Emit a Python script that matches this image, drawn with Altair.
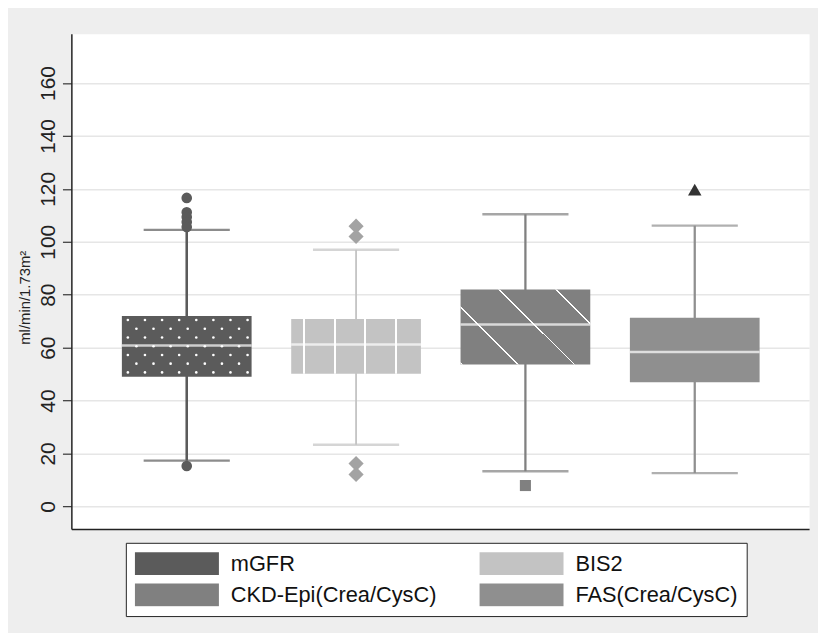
import altair as alt
import pandas as pd

# ---- data ----
groups = ["mGFR", "BIS2", "CKD-Epi(Crea/CysC)", "FAS(Crea/CysC)"]
q1 = [49.0, 50.1, 53.6, 46.9]
median = [60.8, 61.2, 68.8, 58.4]
q3 = [72.0, 70.8, 82.0, 71.3]
whisker_low = [17.3, 23.3, 13.3, 12.6]
whisker_high = [104.5, 97.0, 110.4, 106.1]

outlier_group = (["mGFR"] * 6 + ["BIS2"] * 4
                 + ["CKD-Epi(Crea/CysC)"] + ["FAS(Crea/CysC)"])
outlier_value = [116.6, 111.2, 109.4, 107.5, 105.6, 15.3,
                 105.9, 102.0, 16.2, 12.1,
                 7.9,
                 119.7]

y_ticks = [0, 20, 40, 60, 80, 100, 120, 140, 160]

# ---- styles ----
box_fill = ["#5b5b5b", "#c3c3c3", "#808080", "#8f8f8f"]
outlier_fill = ["#5b5b5b", "#a3a3a3", "#808080", "#333333"]
outlier_shape = ["circle", "diamond", "square", "triangle-up"]
outlier_size = [115, 235, 125, 185]
line_width = [2.6, 1.8, 2.3, 2.3]
FONT = "Liberation Sans"
CLEAR = "rgba(255,255,255,0)"


def stripes(centers, half):
    stops = [{"offset": 0, "color": CLEAR}]
    for c in centers:
        a, b = max(c - half, 0.0), min(c + half, 1.0)
        stops += [{"offset": a, "color": CLEAR}, {"offset": a, "color": "white"},
                  {"offset": b, "color": "white"}, {"offset": b, "color": CLEAR}]
    stops.append({"offset": 1, "color": CLEAR})
    return stops


vertical_hatch = {"gradient": "linear", "x1": 0, "y1": 0, "x2": 1, "y2": 0,
                  "stops": stripes([0.10, 0.336, 0.567, 0.805], 0.008)}
diagonal_hatch = {"gradient": "linear", "x1": 0, "y1": 1, "x2": 1.183, "y2": 0.314,
                  "stops": stripes([0.006, 0.28, 0.556, 0.831], 0.0045)}

position = {g: i + 1 for i, g in enumerate(groups)}

box_df = pd.DataFrame({
    "group": groups,
    "pos": [position[g] for g in groups],
    "q1": q1, "median": median, "q3": q3,
    "lo": whisker_low, "hi": whisker_high,
})
out_df = pd.DataFrame({
    "series": outlier_group,
    "pos": [position[g] for g in outlier_group],
    "value": outlier_value,
})

x_enc = alt.X("pos:Q",
              scale=alt.Scale(domain=[0.348, 4.646], nice=False, zero=False),
              axis=alt.Axis(labels=False, ticks=False, grid=False, title=None,
                            domainColor="#222222", domainWidth=1.5))

y_scale = alt.Scale(domain=[-8.5, 178.6], nice=False, zero=False)
y_axis = alt.Axis(values=y_ticks, title="ml/min/1.73m²",
                  labelAngle=270, labelAlign="center", labelBaseline="bottom",
                  labelFontSize=21, labelFont=FONT, labelColor="#222222",
                  labelPadding=4, labelOverlap=False,
                  tickSize=9, tickColor="#333333", tickWidth=1.2,
                  domainColor="#222222", domainWidth=1.5,
                  gridColor="#e6e6e6", gridWidth=1.5,
                  titleAngle=270, titleX=-42, titleY=266, titleAlign="center",
                  titleBaseline="alphabetic", titleFontSize=15,
                  titleFont=FONT, titleFontWeight="normal", titleColor="#222222")

legend_path = "M-1,-0.2706L1,-0.2706L1,0.2706L-1,0.2706Z"
legend = alt.Legend(title=None, orient="none", legendX=55, legendY=514,
                    direction="horizontal",
                    columns=2, symbolType=legend_path,
                    symbolSize=7225, symbolStrokeWidth=0, symbolOpacity=1,
                    labelFontSize=22, labelFont=FONT,
                    labelColor="#111111", labelLimit=400,
                    labelOffset=12, columnPadding=43,
                    rowPadding=7.5, padding=9, clipHeight=24,
                    fillColor="white", strokeColor="#222222")
color_scale = alt.Scale(domain=groups, range=box_fill)
color_enc = alt.Color("group:N", scale=color_scale, legend=legend)

base = alt.Chart(box_df)

layers = []
for g, w in zip(groups, line_width):
    layers.append(base.transform_filter(alt.datum.group == g)
                  .mark_rule(strokeWidth=w).encode(
                      x=x_enc,
                      y=alt.Y("lo:Q", scale=y_scale, axis=y_axis),
                      y2="hi:Q",
                      color=color_enc))

layers.append(base.mark_tick(orient="horizontal", size=87, thickness=2.4).encode(
    x="pos:Q", y="lo:Q", color=color_enc))
layers.append(base.mark_tick(orient="horizontal", size=87, thickness=2.4).encode(
    x="pos:Q", y="hi:Q", color=color_enc))

layers.append(base.mark_bar(size=131, opacity=1).encode(
    x="pos:Q", y="q1:Q", y2="q3:Q", color=color_enc))

layers.append(base.transform_filter(alt.datum.group == "BIS2").mark_bar(
    size=131, fill=vertical_hatch).encode(x="pos:Q", y="q1:Q", y2="q3:Q"))
layers.append(base.transform_filter(alt.datum.group == "CKD-Epi(Crea/CysC)").mark_bar(
    size=131, fill=diagonal_hatch).encode(x="pos:Q", y="q1:Q", y2="q3:Q"))

layers.append(base.transform_filter(alt.datum.group == "mGFR").transform_calculate(
    col="sequence(0, 8)").transform_flatten(["col"]).transform_calculate(
    row="sequence(0, 7)").transform_flatten(["row"]).transform_calculate(
    dx="datum.pos - 0.378 + (datum.col + 0.3 + (datum.row % 2) * 0.5) * 0.101",
    dy="datum.q1 + (datum.row + 0.5) * 3.3",
).transform_filter("datum.dx < datum.pos + 0.36").mark_point(
    filled=True, opacity=1, color="white", size=7).encode(
    x="dx:Q", y="dy:Q"))

layers.append(base.mark_tick(orient="horizontal", size=131, thickness=2.5,
                             color="white").encode(x="pos:Q", y="median:Q"))

for g, shp, fc, sz in zip(groups, outlier_shape, outlier_fill, outlier_size):
    layers.append(alt.Chart(out_df).transform_filter(alt.datum.series == g)
                  .mark_point(filled=True, opacity=1, shape=shp, fill=fc,
                              size=sz, strokeWidth=0)
                  .encode(x="pos:Q", y="value:Q"))

chart = alt.layer(*layers).properties(
    width=745, height=500,
    autosize=alt.AutoSizeParams(type="none"),
    padding={"left": 64, "top": 23, "right": 9, "bottom": 102},
    background="#eeeeee",
).configure_view(fill="white", stroke="transparent")

chart.save("out.html", embed_options={"renderer": "svg", "actions": False})
